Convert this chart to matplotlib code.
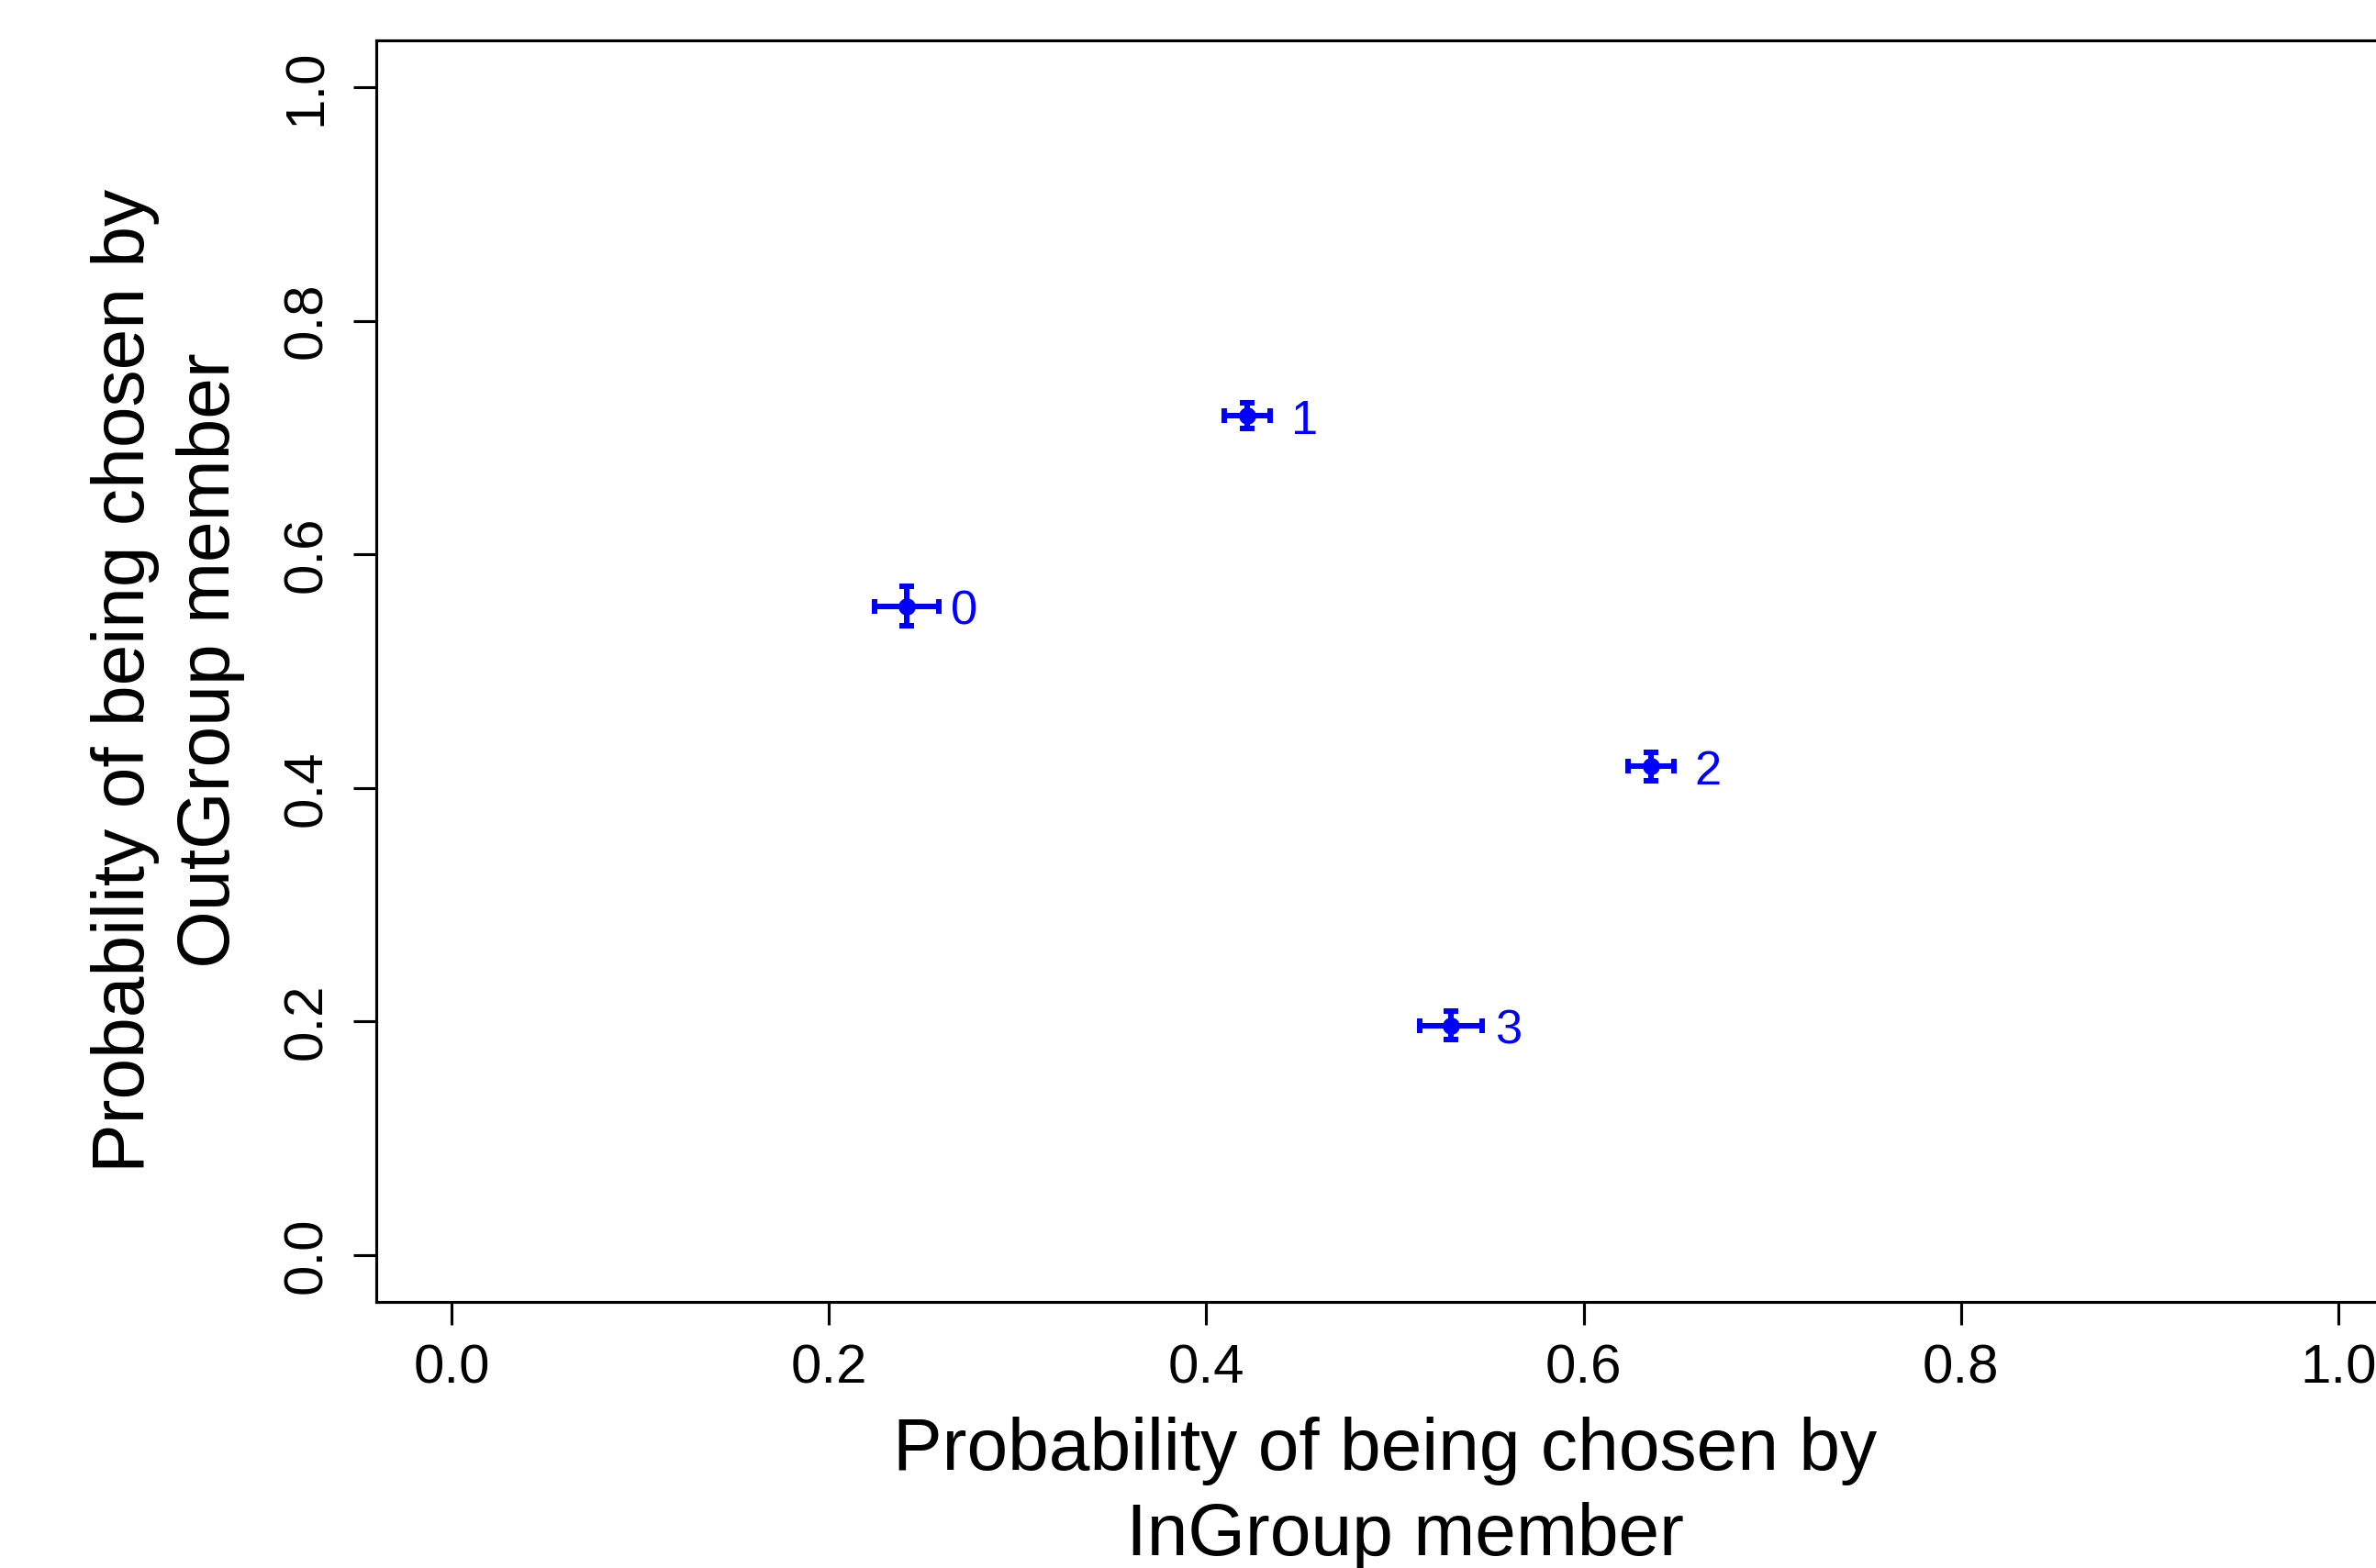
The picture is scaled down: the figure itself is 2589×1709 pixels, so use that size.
import matplotlib
matplotlib.use("Agg")
import matplotlib.pyplot as plt

plt.rcParams['font.family'] = ['Liberation Sans', 'DejaVu Sans']

labels = ["0", "1", "2", "3"]
x_vals = [0.241, 0.4216, 0.6357, 0.5298]
y_vals = [0.5557, 0.7188, 0.4184, 0.1968]
x_err = [0.017, 0.012, 0.0122, 0.0166]
y_err = [0.0168, 0.0107, 0.012, 0.0124]
ticks = [0.0, 0.2, 0.4, 0.6, 0.8, 1.0]
tick_labels = ["0.0", "0.2", "0.4", "0.6", "0.8", "1.0"]
x_label = "Probability of being chosen by \n InGroup member"
y_label = "Probability of being chosen by \n OutGroup member"

dpi = 300
fig = plt.figure(figsize=(2589 / dpi, 1709 / dpi), dpi=dpi)
ax = fig.add_axes([410 / 2589, 1 - 1419 / 1709, 2220 / 2589, 1375 / 1709])

blue = (0, 0, 1)
for xv, yv, xe, ye, lab in zip(x_vals, y_vals, x_err, y_err, labels):
    eb = ax.errorbar(xv, yv, xerr=xe, yerr=ye, fmt='o', color=blue, ms=3.5,
                     elinewidth=1.45, capsize=2.0, capthick=1.45)
    for ln in eb.lines[2]:
        ln.set_capstyle('round')
    ax.annotate(lab, (xv, yv), xytext=(11.5, -1.5), textcoords='offset points',
                ha='left', va='center', color=blue, fontsize=12.6)

ax.set_xlim(-0.04, 1.04)
ax.set_ylim(-0.04, 1.04)
ax.set_xticks(ticks)
ax.set_xticklabels(tick_labels)
ax.set_yticks(ticks)
ax.set_yticklabels(tick_labels, rotation=90, va='center')
ax.tick_params(axis='both', length=6, width=0.75, labelsize=14.4, color='black')
ax.tick_params(axis='x', pad=5)
ax.tick_params(axis='y', pad=5.5)
for s in ax.spines.values():
    s.set_linewidth(0.75)
    s.set_color('black')

fig.text(1520 / 2589, 1 - 1628 / 1709, x_label,
         ha='center', va='center', fontsize=19.3, linespacing=1.3)
fig.text(183 / 2589, 1 - 731 / 1709, y_label,
         ha='center', va='center', rotation=90, fontsize=19.3, linespacing=1.3)

fig.savefig("out.png", dpi=dpi)
